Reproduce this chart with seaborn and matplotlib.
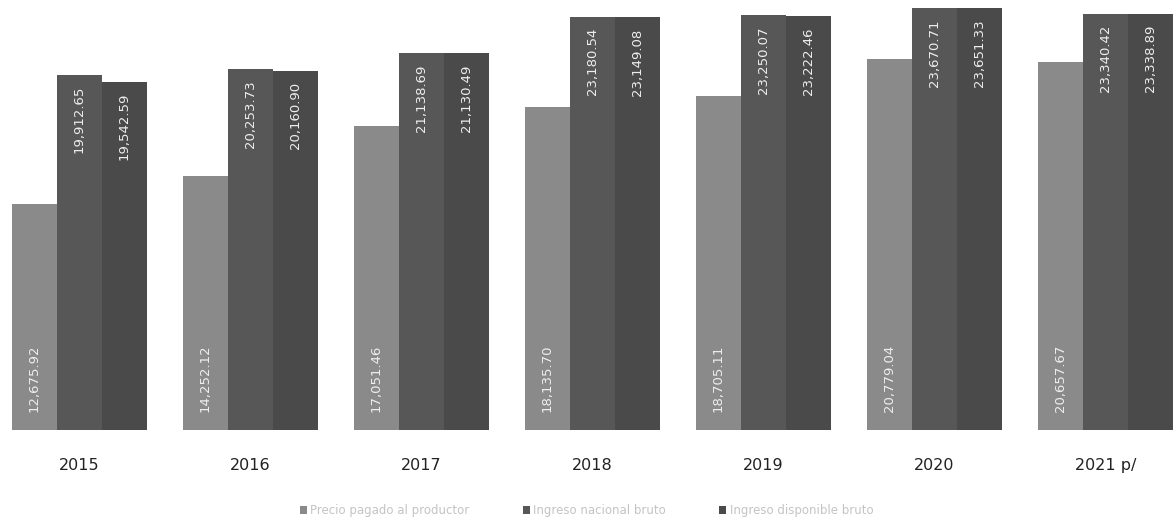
import pandas as pd
import numpy as np
import seaborn as sns
import matplotlib.pyplot as plt

# Datos
years = ['2015', '2016', '2017', '2018', '2019', '2020', '2021 p/']
series_names = ['Precio pagado al productor', 'Ingreso nacional bruto', 'Ingreso disponible bruto']
serie_1 = [12675.92, 14252.12, 17051.46, 18135.70, 18705.11, 20779.04, 20657.67]
serie_2 = [19912.65, 20253.73, 21138.69, 23180.54, 23250.07, 23670.71, 23340.42]
serie_3 = [19542.59, 20160.90, 21130.49, 23149.08, 23222.46, 23651.33, 23338.89]
colors = ['#8a8a8a', '#575757', '#4a4a4a']

df = pd.DataFrame({
    'year': years * 3,
    'serie': np.repeat(series_names, len(years)),
    'value': serie_1 + serie_2 + serie_3,
})

sns.set_style('white')
fig = plt.figure(figsize=(11.73, 5.23), dpi=100)
ax = fig.add_axes([0, 0.178, 1, 0.822])

sns.barplot(data=df, x='year', y='value', hue='serie', hue_order=series_names,
            palette=colors, width=0.79, saturation=1, ax=ax, errorbar=None,
            linewidth=0, edgecolor='none')

# Etiquetas de valores
for i, cont in enumerate(ax.containers):
    for bar in cont:
        h = bar.get_height()
        x = bar.get_x() + bar.get_width() / 2
        txt = f'{h:,.2f}'
        if i == 0:
            ax.annotate(txt, (x, 0), xytext=(0, 13), textcoords='offset points',
                        rotation=90, ha='center', va='bottom', color='#eeeeee', fontsize=9.5)
        else:
            ax.annotate(txt, (x, h), xytext=(0, -8), textcoords='offset points',
                        rotation=90, ha='center', va='top', color='#eeeeee', fontsize=9.5)

ax.set_ylim(0, 24116)
ax.set_xlim(-0.465, 6.395)
ax.set_xlabel('')
ax.set_ylabel('')
ax.set_yticks([])
ax.tick_params(axis='x', length=0, pad=20, labelsize=11.5, labelcolor='#222222')
for s in ax.spines.values():
    s.set_visible(False)

handles, labels = ax.get_legend_handles_labels()
ax.legend_.remove()
fig.legend(handles, labels, loc='center', bbox_to_anchor=(0.5, 0.024), ncol=3,
           frameon=False, fontsize=8.5, labelcolor='#c4c4c4', handlelength=0.6,
           handleheight=0.6, handletextpad=0.3, columnspacing=4.5)

plt.savefig('out.png', dpi=100)
